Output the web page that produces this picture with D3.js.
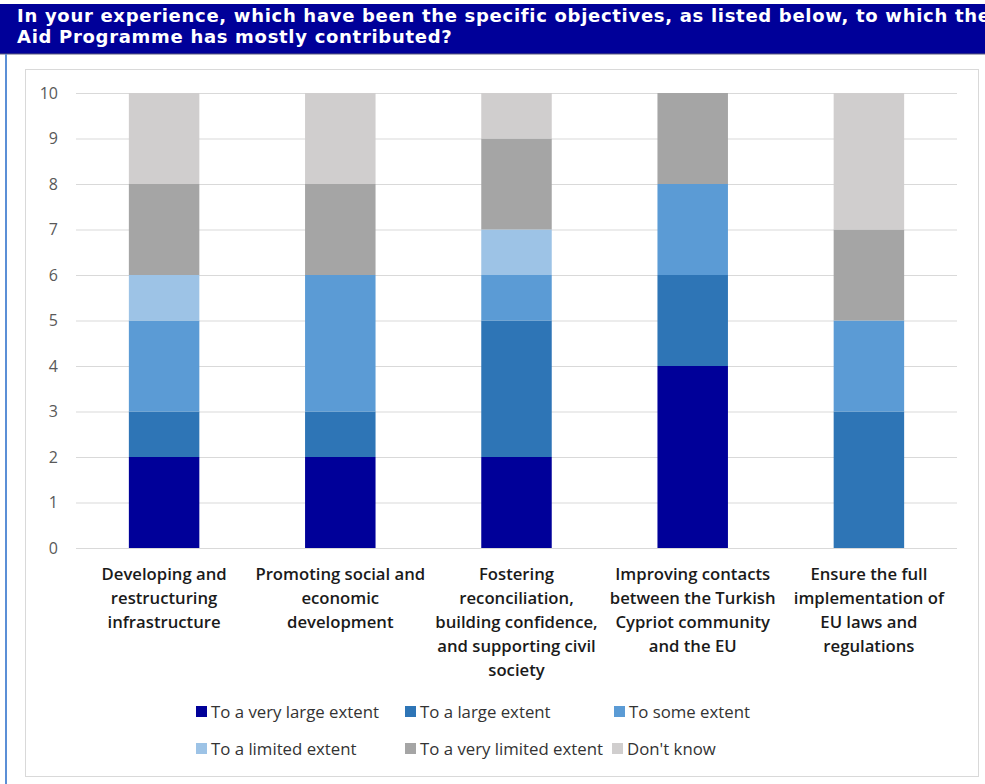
<!DOCTYPE html>
<html>
<head>
<meta charset="utf-8">
<script src="https://cdn.jsdelivr.net/npm/d3@7"></script>
<style>
  html, body { margin: 0; padding: 0; background: #fff; }
  svg { display: block; }
</style>
</head>
<body>
<svg id="chart" width="985" height="784"></svg>
<script>
// Survey objectives and the number of answers per extent level
const categories = [
  ["Developing and", "restructuring", "infrastructure"],
  ["Promoting social and", "economic", "development"],
  ["Fostering", "reconciliation,", "building confidence,", "and supporting civil", "society"],
  ["Improving contacts", "between the Turkish", "Cypriot community", "and the EU"],
  ["Ensure the full", "implementation of", "EU laws and", "regulations"]
];
const seriesNames = [
  "To a very large extent",
  "To a large extent",
  "To some extent",
  "To a limited extent",
  "To a very limited extent",
  "Don't know"
];
const veryLarge    = [2, 2, 2, 4, 0];
const large        = [1, 1, 3, 2, 3];
const some         = [2, 3, 1, 2, 2];
const limited      = [1, 0, 1, 0, 0];
const veryLimited  = [2, 2, 2, 2, 2];
const dontKnow     = [2, 2, 1, 0, 3];
const yTicks = [0, 1, 2, 3, 4, 5, 6, 7, 8, 9, 10];
const colors = ["#000099", "#2E75B6", "#5B9BD5", "#9DC3E6", "#A5A5A5", "#D0CECE"];

const seriesValues = [veryLarge, large, some, limited, veryLimited, dontKnow];
const rows = categories.map((c, i) => {
  const r = { idx: i };
  seriesNames.forEach((s, k) => r[s] = seriesValues[k][i]);
  return r;
});

const svg = d3.select("#chart");
const bodyFont = "'Open Sans', Lato, sans-serif";

// Title banner
svg.append("rect").attr("x", 0).attr("y", 4).attr("width", 985).attr("height", 50)
  .attr("fill", "#000099");
svg.append("line").attr("x1", 0).attr("x2", 985).attr("y1", 54).attr("y2", 54)
  .attr("stroke", "#5a5a7a").attr("stroke-width", 1);
const title = svg.append("text")
  .attr("font-family", "DejaVu Sans, Verdana, sans-serif")
  .attr("font-weight", "bold").attr("font-size", 18).attr("letter-spacing", 0.7).attr("fill", "#fff");
title.append("tspan").attr("x", 17).attr("y", 22)
  .text("In your experience, which have been the specific objectives, as listed below, to which the");
title.append("tspan").attr("x", 17).attr("y", 43)
  .text("Aid Programme has mostly contributed?");

// Panel frame
svg.append("line").attr("x1", 6).attr("x2", 6).attr("y1", 54).attr("y2", 784)
  .attr("stroke", "#5b8fd6").attr("stroke-width", 2);
svg.append("rect").attr("x", 25.5).attr("y", 69.5).attr("width", 953).attr("height", 707)
  .attr("fill", "#fff").attr("stroke", "#d9d9d9").attr("stroke-width", 1);

// Plot area
const plotLeft = 76, plotRight = 957, plotTop = 93, plotBottom = 548;
const x = d3.scaleBand().domain(d3.range(categories.length)).range([plotLeft, plotRight]).paddingInner(0.6).paddingOuter(0.3);
const y = d3.scaleLinear().domain([0, 10]).range([plotBottom, plotTop]);

const yAxis = d3.axisLeft(y).tickValues(yTicks).tickSize(-(plotRight - plotLeft)).tickPadding(18);
const gy = svg.append("g").attr("transform", `translate(${plotLeft},0)`).call(yAxis);
gy.select(".domain").remove();
gy.selectAll(".tick line").attr("stroke", "#d9d9d9").attr("stroke-width", 1);
gy.selectAll(".tick text").attr("fill", "#595959")
  .attr("font-family", bodyFont).attr("font-size", 16);

const stack = d3.stack().keys(seriesNames);
const layers = stack(rows);

svg.append("g").selectAll("g").data(layers).join("g")
  .attr("fill", (d, i) => colors[i])
  .selectAll("rect").data(d => d).join("rect")
  .attr("x", d => x(d.data.idx))
  .attr("width", x.bandwidth())
  .attr("y", d => y(d[1]))
  .attr("height", d => y(d[0]) - y(d[1]));

// Baseline
svg.append("line").attr("x1", plotLeft).attr("x2", plotRight).attr("y1", plotBottom + 0.5).attr("y2", plotBottom + 0.5)
  .attr("stroke", "#d9d9d9");

// Category labels
const catG = svg.append("g").attr("font-family", bodyFont)
  .attr("font-weight", 600).attr("font-size", 16.7).attr("fill", "#1a1a1a")
  .attr("text-anchor", "middle");
categories.forEach((lines, i) => {
  const t = catG.append("text");
  lines.forEach((ln, j) => {
    t.append("tspan").attr("x", x(i) + x.bandwidth() / 2).attr("y", 580 + j * 24).text(ln);
  });
});

// Legend
const legendPos = [[196, 712], [405, 712], [614, 712], [196, 749], [405, 749], [612, 749]];
const lg = svg.append("g").attr("font-family", bodyFont).attr("font-size", 16.8).attr("fill", "#333");
seriesNames.forEach((s, i) => {
  const [lx, ly] = legendPos[i];
  lg.append("rect").attr("x", lx).attr("y", ly - 6).attr("width", 11).attr("height", 11).attr("fill", colors[i]);
  lg.append("text").attr("x", lx + 15).attr("y", ly + 6).text(s);
});
</script>
</body>
</html>
